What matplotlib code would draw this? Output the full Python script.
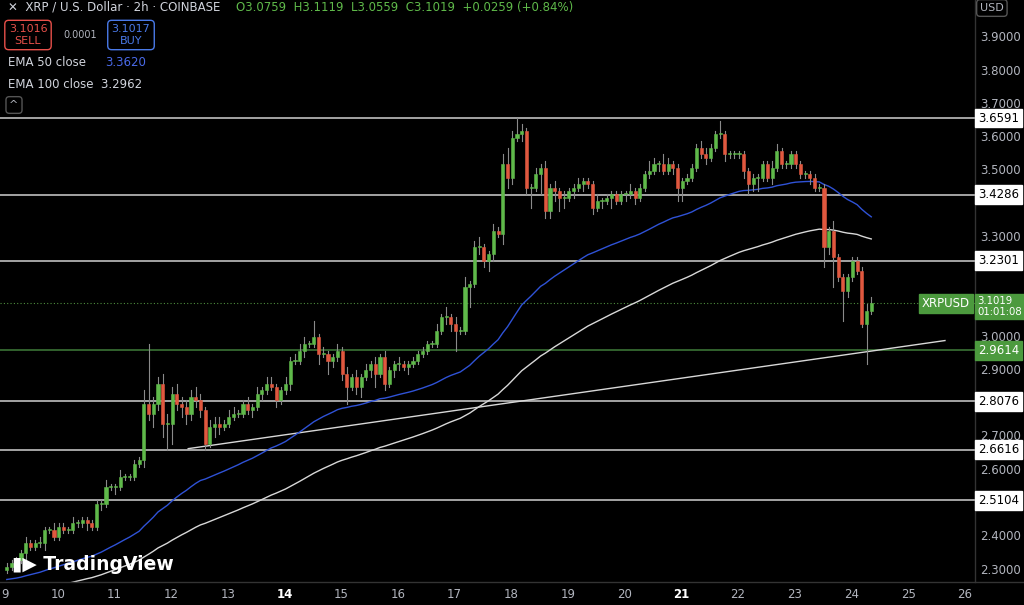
import numpy as np
import matplotlib.pyplot as plt
from matplotlib.patches import Rectangle

# 2h closes (chunks roughly follow the price path)
closes = [
    2.31, 2.32, 2.33, 2.35,
    2.38, 2.37, 2.38, 2.38, 2.42, 2.42, 2.40, 2.43, 2.42, 2.42, 2.44, 2.44, 2.45, 2.44, 2.43,
    2.50, 2.50, 2.55, 2.55, 2.55, 2.58, 2.58, 2.58, 2.62, 2.63,
    2.80, 2.77, 2.80, 2.86, 2.74, 2.74, 2.83, 2.80, 2.79, 2.77, 2.82, 2.81, 2.78, 2.68, 2.73, 2.74, 2.73, 2.74, 2.76, 2.77, 2.77,
    2.80, 2.78, 2.79, 2.83, 2.84, 2.86, 2.85, 2.81, 2.84, 2.86,
    2.93, 2.93, 2.96, 2.98, 2.98, 3.00, 2.95, 2.95, 2.93, 2.94, 2.96, 2.89, 2.85, 2.88, 2.85,
    2.88, 2.90, 2.92, 2.89, 2.94, 2.86, 2.90, 2.92, 2.92, 2.91, 2.92, 2.93, 2.95, 2.96, 2.98,
    2.98, 3.02, 3.06, 3.06, 3.04, 3.02, 3.02, 3.15, 3.16, 3.27, 3.27, 3.23,
    3.25, 3.32, 3.31, 3.52, 3.48, 3.60, 3.61, 3.62, 3.45, 3.45, 3.49, 3.51, 3.38, 3.45, 3.44,
    3.42, 3.42, 3.44, 3.45, 3.46, 3.47, 3.46, 3.39, 3.41, 3.41, 3.42, 3.43, 3.41, 3.43, 3.43,
    3.44, 3.42, 3.45, 3.49, 3.50, 3.52, 3.52, 3.50, 3.52, 3.51, 3.45, 3.47, 3.48, 3.51, 3.57,
    3.55, 3.54, 3.57, 3.61, 3.61, 3.55, 3.55, 3.55,
    3.55, 3.50, 3.46, 3.48, 3.48, 3.52, 3.48, 3.51, 3.56, 3.52, 3.52, 3.55, 3.52, 3.49, 3.49,
    3.48, 3.45, 3.45, 3.27, 3.32, 3.24, 3.18, 3.14, 3.18, 3.23, 3.20, 3.04, 3.08, 3.1019,
]
# wick lengths above / below the body, in cents
wick_up = [
    1, 1, 1, 1,
    2, 1, 1, 2, 1, 1, 2, 1, 1, 1, 2, 1, 1, 1, 1,
    1, 1, 2, 1, 1, 2, 1, 1, 1, 1,
    4, 18, 2, 2, 3, 3, 2, 3, 2, 2, 2, 3, 2, 1, 2, 2, 2, 1, 2, 2, 1,
    1, 2, 1, 2, 1, 2, 2, 1, 1, 2,
    1, 2, 2, 2, 1, 5, 1, 2, 1, 1, 2, 1, 2, 1, 2,
    1, 2, 1, 2, 1, 2, 1, 1, 2, 1, 1, 1, 1, 1, 1,
    1, 2, 1, 3, 1, 2, 1, 3, 1, 2, 3, 1,
    1, 2, 1, 3, 5, 2, 5, 2, 1, 1, 2, 1, 2, 1, 2,
    1, 2, 1, 1, 2, 1, 1, 1, 2, 1, 1, 1, 1, 1, 1,
    2, 1, 1, 1, 3, 2, 1, 3, 2, 1, 1, 1, 1, 1, 1,
    2, 2, 1, 1, 4, 1, 1, 1,
    1, 1, 1, 1, 1, 1, 1, 2, 2, 1, 1, 1, 1, 1, 1,
    1, 1, 1, 1, 1, 3, 1, 1, 1, 1, 1, 1, 2, 2,
]
wick_dn = [
    1, 1, 1, 1,
    2, 1, 1, 1, 2, 1, 1, 1, 1, 1, 1, 1, 1, 2, 1,
    1, 2, 1, 1, 2, 1, 1, 1, 1, 1,
    2, 2, 4, 2, 4, 8, 6, 2, 3, 3, 2, 2, 2, 2, 1, 3, 2, 1, 1, 1, 1,
    1, 1, 2, 1, 2, 1, 1, 2, 1, 1,
    2, 1, 1, 2, 1, 1, 3, 1, 4, 2, 1, 2, 5, 1, 2,
    3, 1, 2, 4, 1, 2, 1, 2, 2, 1, 2, 1, 1, 1, 1,
    1, 1, 1, 2, 2, 6, 1, 1, 6, 1, 2, 2,
    3, 2, 1, 3, 3, 2, 1, 2, 2, 6, 1, 6, 2, 2, 3,
    4, 3, 1, 2, 1, 2, 1, 2, 1, 2, 1, 3, 1, 1, 2,
    1, 2, 1, 1, 1, 1, 2, 1, 1, 2, 4, 4, 1, 1, 1,
    1, 2, 1, 1, 1, 2, 1, 1,
    1, 2, 3, 2, 4, 1, 1, 2, 1, 1, 1, 1, 1, 1, 1,
    2, 1, 1, 6, 2, 9, 1, 9, 2, 1, 1, 1, 12, 1,
]
first_open = 2.30
ema50_seed, ema100_seed = 2.27, 2.22

levels = [3.6591, 3.4286, 3.2301, 2.9614, 2.8076, 2.6616, 2.5104]
trend_days = [12.3, 25.65]
trend_prices = [2.665, 2.99]
price_ticks = [3.9, 3.8, 3.7, 3.6, 3.5, 3.4, 3.3, 3.2, 3.1, 3.0, 2.9, 2.8, 2.7, 2.6, 2.5, 2.4, 2.3]
day_ticks = list(range(9, 27))
last_price = 3.1019

n = min(len(closes), len(wick_up), len(wick_dn))
c = np.array(closes[:n])
o = np.concatenate([[first_open], c[:-1]])
hi = np.maximum(o, c) + np.array(wick_up[:n]) / 100
lo = np.minimum(o, c) - np.array(wick_dn[:n]) / 100
t = 9.1 + np.arange(n) / 12.0

def ema(vals, span, seed):
    a = 2 / (span + 1)
    out, prev = [], seed
    for v in vals:
        prev = a * v + (1 - a) * prev
        out.append(prev)
    return np.array(out)

e50 = ema(c, 50, ema50_seed)
e100 = ema(c, 100, ema100_seed)

BG = "#000000"
GREEN = "#5fb94a"
RED = "#e0583f"
LBL = "#b2b5be"
X0, X1 = 8.98, 26.18

fig = plt.figure(figsize=(10.24, 6.05), dpi=100, facecolor=BG)
ax = fig.add_axes([0, 23 / 605, 975 / 1024, 582 / 605], facecolor=BG)
ax.set_xlim(X0, X1)
ax.set_ylim(2.264, 4.014)

for lv in levels:
    col = "#3f7d3a" if lv == 2.9614 else "#d0d0d0"
    ax.axhline(lv, color=col, lw=1.1, zorder=1)
ax.axhline(last_price, color="#4f8f3f", lw=0.8, ls=(0, (1, 2)), zorder=1)
ax.plot(trend_days, trend_prices, color="#d8d8d8", lw=1, zorder=2)
ax.plot(t, e50, color="#2f52d6", lw=1, zorder=2)
ax.plot(t, e100, color="#d8d8d8", lw=1, zorder=2)

w = 0.055
for ti, oi, ci, h, l in zip(t, o, c, hi, lo):
    col = GREEN if ci >= oi else RED
    ax.plot([ti, ti], [l, h], color="#8a8a8a", lw=0.8, zorder=3)
    ax.add_patch(Rectangle((ti - w / 2, min(oi, ci)), w, max(abs(ci - oi), 0.003),
                           facecolor=col, edgecolor=col, lw=0.4, zorder=4))

for s in ax.spines.values():
    s.set_visible(False)
ax.set_xticks([])
ax.set_yticks([])

# right price scale
yr = ax.get_ylim()
def fy(p):
    return 23 / 605 + (p - yr[0]) / (yr[1] - yr[0]) * 582 / 605
fig.add_artist(plt.Line2D([975 / 1024] * 2, [23 / 605, 1], color="#333", lw=1))
fig.add_artist(plt.Line2D([0, 1], [23 / 605] * 2, color="#333", lw=1))
for p in price_ticks:
    if any(abs(p - lv) < 0.035 for lv in levels) or abs(p - last_price) < 0.03:
        continue
    fig.text(980 / 1024, fy(p), f"{p:.4f}", color=LBL, fontsize=8.5, va="center")
for lv in levels:
    green = lv == 2.9614
    fig.text(975 / 1024 + 0.003, fy(lv), f"{lv:.4f}", fontsize=8.5, va="center",
             color="white" if green else "black",
             bbox=dict(boxstyle="square,pad=0.25", fc="#4c9a3e" if green else "white",
                       ec="#4c9a3e" if green else "white"))
fig.text(975 / 1024 + 0.002, fy(last_price) - 0.005, "3.1019\n01:01:08", fontsize=7.3,
         va="center", color="white", linespacing=1.1,
         bbox=dict(boxstyle="square,pad=0.2", fc="#4c9a3e", ec="#4c9a3e"))
fig.text(922 / 1024, fy(last_price), "XRPUSD", fontsize=8.5, va="center", color="white",
         bbox=dict(boxstyle="square,pad=0.25", fc="#4c9a3e", ec="#4c9a3e"))
fig.text(980 / 1024, 1 - 8 / 605, "USD", fontsize=8, va="center", color=LBL,
         bbox=dict(boxstyle="round,pad=0.3", fc=BG, ec="#555"))

# bottom date scale
for d in day_ticks:
    x = (d - X0) / (X1 - X0) * 975 / 1024
    bold = d in (14, 21)
    ha = "left" if d == 9 else "center"
    fig.text(x, 10 / 605, str(d), color="white" if bold else LBL, fontsize=8.5,
             ha=ha, va="center", fontweight="bold" if bold else "normal")

# header
fig.text(8 / 1024, 1 - 7 / 605, "✕  XRP / U.S. Dollar · 2h · COINBASE", color="#d1d4dc",
         fontsize=8.5, va="center")
fig.text(236 / 1024, 1 - 7 / 605, "O3.0759  H3.1119  L3.0559  C3.1019  +0.0259 (+0.84%)",
         color=GREEN, fontsize=8.5, va="center")
fig.text(28 / 1024, 1 - 35 / 605, "3.1016\nSELL", color="#e8504a", fontsize=8, ha="center",
         va="center", linespacing=1.2,
         bbox=dict(boxstyle="round,pad=0.35", fc=BG, ec="#e8504a"))
fig.text(80 / 1024, 1 - 35 / 605, "0.0001", color=LBL, fontsize=7, ha="center", va="center")
fig.text(131 / 1024, 1 - 35 / 605, "3.1017\nBUY", color="#4a7ae8", fontsize=8, ha="center",
         va="center", linespacing=1.2,
         bbox=dict(boxstyle="round,pad=0.35", fc=BG, ec="#4a7ae8"))
fig.text(8 / 1024, 1 - 63 / 605, "EMA 50 close", color="#d1d4dc", fontsize=8.5, va="center")
fig.text(105 / 1024, 1 - 63 / 605, "3.3620", color="#4a6ae8", fontsize=8.5, va="center")
fig.text(8 / 1024, 1 - 84 / 605, "EMA 100 close  3.2962", color="#d1d4dc", fontsize=8.5,
         va="center")
fig.text(14 / 1024, 1 - 105 / 605, "^", color=LBL, fontsize=8, ha="center", va="center",
         bbox=dict(boxstyle="round,pad=0.3", fc=BG, ec="#555"))
fig.text(12 / 1024, 40 / 605, "▮▶ TradingView", color="white", fontsize=13.5,
         fontweight="bold", va="center")

fig.savefig("out.png", dpi=100, facecolor=BG)
